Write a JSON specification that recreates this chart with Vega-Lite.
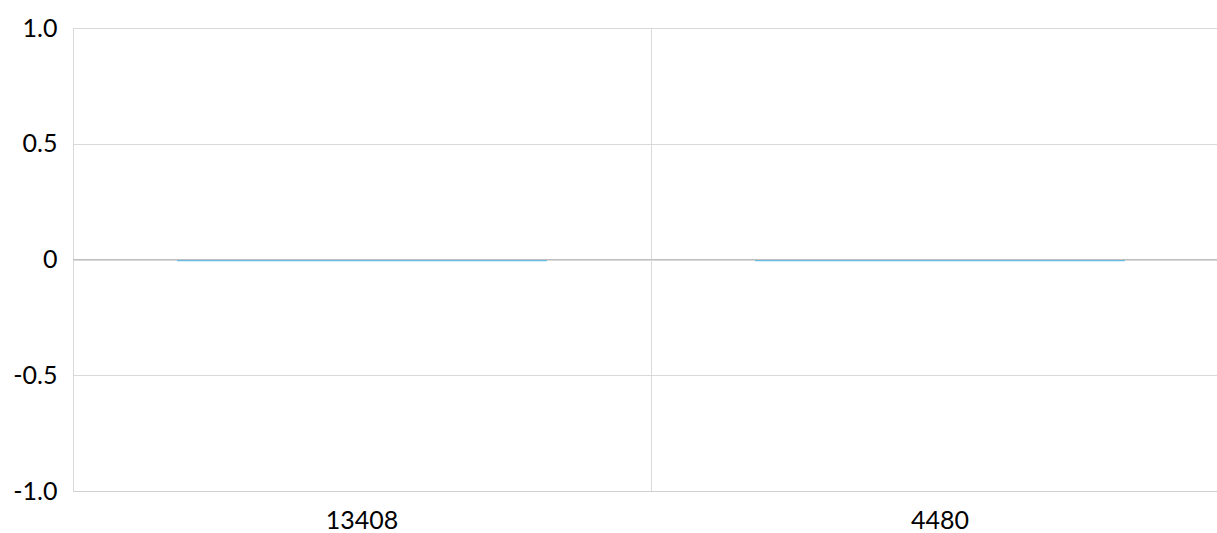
{
  "$schema": "https://vega.github.io/schema/vega-lite/v6.json",
  "autosize": {"type": "none"},
  "padding": {"left": 73, "top": 28, "right": 0, "bottom": 42},
  "width": 1156,
  "height": 463,
  "background": "white",
  "config": {
    "view": {"stroke": null},
    "font": "Lato",
    "axis": {"labelFont": "Lato", "labelFontSize": 25, "labelColor": "#000000"}
  },
  "data": {"values": [
    {"category": "13408", "value": -0.008},
    {"category": "4480", "value": -0.008}
  ]},
  "layer": [
    {
      "mark": {"type": "bar", "color": "#69bde6", "width": {"band": 0.64}},
      "encoding": {
        "x": {
          "field": "category", "type": "nominal", "sort": null,
          "scale": {"paddingInner": 0, "paddingOuter": 0},
          "axis": {
            "title": null, "labelAngle": 0, "ticks": false, "labelPadding": 17,
            "domain": true, "domainColor": "#d0d0d0", "domainWidth": 1,
            "grid": true, "gridColor": "#d9d9d9", "bandPosition": 0
          }
        },
        "y": {
          "field": "value", "type": "quantitative",
          "scale": {"domain": [-1, 1], "nice": false, "zero": false},
          "axis": {
            "title": null, "values": [-1, -0.5, 0, 0.5, 1],
            "labelExpr": "datum.value == 0 ? '0' : (datum.value < 0 ? '-' : '') + format(abs(datum.value), '.1f')",
            "ticks": false, "labelPadding": 16,
            "domain": true, "domainColor": "#d9d9d9",
            "grid": true, "gridColor": "#d9d9d9"
          }
        }
      }
    },
    {
      "mark": {"type": "rule", "color": "#bfbfbf", "strokeWidth": 1},
      "encoding": {"y": {"datum": 0, "type": "quantitative"}}
    }
  ]
}
